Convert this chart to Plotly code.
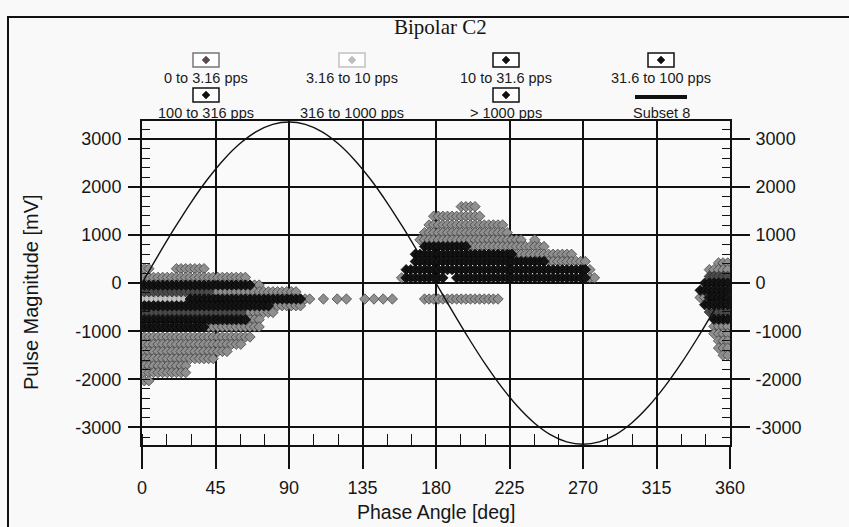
import plotly.graph_objects as go

# ---------------- data ----------------
PHASE_BIN_DEG = 2.8125  # phase resolution of the PD pattern

# run-length encoded rows: (magnitude mV, first phase deg, last phase deg)
SEG_0_TO_3_16 = [
    (300, 0, 4), (300, 20, 31), (300, 34, 38),
    (120, 0, 64),
    (-40, 66, 72),
    (-180, 40, 93),
    (-330, 97, 104), (-330, 112, 112), (-330, 119, 119), (-330, 125, 125),
    (-330, 136, 136), (-330, 141, 141), (-330, 147, 147), (-330, 153, 153),
    (-330, 172, 219),
    (-470, 76, 97),
    (-610, 60, 81),
    (-760, 63, 72),
    (-910, 38, 71),
    (-1120, 0, 67),
    (-1270, 0, 60),
    (-1420, 0, 52),
    (-1570, 0, 43),
    (-1720, 0, 28),
    (-1860, 0, 17), (-1860, 22, 28),
    (-2030, 0, 5),
    (1590, 196, 204),
    (1390, 178, 207),
    (1210, 175, 222),
    (1050, 173, 224),
    (900, 171, 233), (900, 241, 241),
    (760, 197, 246),
    (600, 225, 262),
    (450, 247, 271),
    (280, 271, 273),
    (110, 159, 163), (110, 272, 278),
    (420, 353, 360),
    (280, 348, 360),
    (-300, 343, 347),
    (-900, 350, 360),
    (-1050, 351, 360),
    (-1200, 352, 360),
    (-1350, 353, 360),
    (-1500, 355, 360),
]
SEG_3_16_TO_10 = [
    (-330, 0, 29),
]
SEG_10_TO_31_6 = [
    (-180, 0, 40),
    (-610, 0, 60),
    (140, 346, 360),
    (-600, 346, 360),
]
SEG_31_6_TO_100 = [
    (-40, 0, 66),
    (-330, 29, 97),
    (-470, 0, 76),
    (-760, 0, 63),
    (-910, 0, 38),
    (760, 173, 197),
    (600, 167, 225),
    (450, 166, 247),
    (280, 163, 271),
    (110, 163, 183), (110, 193, 272),
    (0, 344, 360),
    (-150, 343, 360),
    (-300, 347, 360),
    (-450, 345, 360),
    (-750, 349, 360),
]

SINE_PHASE = list(range(0, 361, 10))
SINE_MV = [0, 582, 1146, 1675, 2153, 2566, 2901, 3148, 3299, 3350,
           3299, 3148, 2901, 2566, 2153, 1675, 1146, 582, 0,
           -582, -1146, -1675, -2153, -2566, -2901, -3148, -3299, -3350,
           -3299, -3148, -2901, -2566, -2153, -1675, -1146, -582, 0]

X_TICKS = [0, 45, 90, 135, 180, 225, 270, 315, 360]
Y_TICKS = [-3000, -2000, -1000, 0, 1000, 2000, 3000]

LEGEND_LABELS = ["0 to 3.16 pps", "3.16 to 10 pps", "10 to 31.6 pps", "31.6 to 100 pps",
                 "100 to 316 pps", "316 to 1000 pps", "> 1000 pps", "Subset 8"]

TITLE = "Bipolar C2"

# ---------------- layout geometry ----------------
W, H = 849, 527
ML, MR, MT, MB = 142, 119, 121, 82
PW, PH = W - ML - MR, H - MT - MB
Y_RANGE = [-3365, 3370]


def px2x(px):
    return (px - ML) / PW


def py2y(py):
    return (H - MB - py) / PH


def expand(segs):
    xs, ys = [], []
    half = PHASE_BIN_DEG / 2
    for mag, a, b in segs:
        k0 = round((a - half) / PHASE_BIN_DEG)
        k1 = round((b - half) / PHASE_BIN_DEG)
        for k in range(max(k0, 0), min(k1, 127) + 1):
            xs.append(half + k * PHASE_BIN_DEG)
            ys.append(mag)
    return xs, ys


fig = go.Figure()

series = [
    (SEG_3_16_TO_10, "#c4c4c4", "#8a8a8a"),
    (SEG_0_TO_3_16, "#8f8f8f", "#3a3a3a"),
    (SEG_10_TO_31_6, "#4a4a4a", "#222222"),
    (SEG_31_6_TO_100, "#141414", "#000000"),
]
for segs, fill, edge in series:
    xs, ys = expand(segs)
    fig.add_trace(go.Scatter(
        x=xs, y=ys, mode="markers", yaxis="y", showlegend=False,
        marker=dict(symbol="diamond", size=8, color=fill, line=dict(color=edge, width=0.7)),
        hoverinfo="skip"))

fig.add_trace(go.Scatter(
    x=SINE_PHASE, y=SINE_MV, mode="lines", yaxis="y2", showlegend=False,
    line=dict(color="#111111", width=1.4, shape="spline", smoothing=1.0), hoverinfo="skip"))

SANS = "Liberation Sans, Arial, sans-serif"
tickfont = dict(family=SANS, size=18, color="#161616")

fig.update_layout(
    width=W, height=H,
    margin=dict(l=ML, r=MR, t=MT, b=MB, pad=0),
    paper_bgcolor="#f9f9f9", plot_bgcolor="#fafafa",
    showlegend=False,
    xaxis=dict(range=[0, 360], tickvals=X_TICKS, ticktext=[str(v) for v in X_TICKS],
               showgrid=True, gridcolor="#111111", gridwidth=1.6, zeroline=False,
               ticks="outside", ticklen=22, tickwidth=1.6, tickcolor="#111111",
               showline=True, linecolor="#111111", linewidth=2, mirror=True,
               minor=dict(dtick=15, tick0=0, ticks="inside", ticklen=11, tickwidth=1.2,
                          tickcolor="#111111", showgrid=False),
               tickfont=tickfont, ticklabelstandoff=3, fixedrange=True),
    yaxis=dict(range=Y_RANGE, tickvals=Y_TICKS, ticktext=[str(v) for v in Y_TICKS],
               showgrid=True, gridcolor="#111111", gridwidth=1.6, zeroline=False,
               ticks="outside", ticklen=12, tickwidth=1.6, tickcolor="#111111",
               showline=True, linecolor="#111111", linewidth=2,
               minor=dict(dtick=200, tick0=0, ticks="inside", ticklen=8, tickwidth=1.2,
                          tickcolor="#111111", showgrid=False),
               tickfont=tickfont, ticklabelstandoff=3, fixedrange=True),
    yaxis2=dict(range=Y_RANGE, overlaying="y", side="right", anchor="x",
                tickvals=Y_TICKS, ticktext=[str(v) for v in Y_TICKS],
                showgrid=False, zeroline=False,
                ticks="outside", ticklen=18, tickwidth=1.6, tickcolor="#111111",
                showline=True, linecolor="#111111", linewidth=2,
                minor=dict(dtick=200, tick0=0, ticks="inside", ticklen=8, tickwidth=1.2,
                           tickcolor="#111111", showgrid=False),
                tickfont=tickfont, ticklabelstandoff=2, fixedrange=True),
)

shapes = []
annotations = []

# outer frame of the picture
shapes.append(dict(type="rect", xref="paper", yref="paper",
                   x0=px2x(8), x1=px2x(860), y0=py2y(540), y1=py2y(17),
                   line=dict(color="#111111", width=2), fillcolor="rgba(0,0,0,0)", layer="above"))

# title
annotations.append(dict(text=TITLE, xref="paper", yref="paper", x=px2x(440), y=py2y(27),
                        xanchor="center", yanchor="middle", showarrow=False,
                        font=dict(family="Liberation Serif, Times New Roman, serif", size=21,
                                  color="#151515")))

# axis titles
annotations.append(dict(text="Pulse Magnitude [mV]", xref="paper", yref="paper",
                        x=px2x(31), y=py2y(292), textangle=-90, xanchor="center", yanchor="middle",
                        showarrow=False, font=dict(family=SANS, size=20, color="#161616")))
annotations.append(dict(text="Phase Angle [deg]", xref="paper", yref="paper",
                        x=px2x(436), y=py2y(512), xanchor="center", yanchor="middle",
                        showarrow=False, font=dict(family=SANS, size=19.5, color="#161616")))

# legend (custom, 2 rows x 4 columns)
COL_X = [206, 352, 506, 661]
ICON_Y = [60, 95]
LABEL_Y = [78, 113]
icon_styles = [
    ("#777777", "#5a4a4a"), ("#c2c2c2", "#bdbdbd"), ("#111111", "#111111"), ("#111111", "#111111"),
    ("#111111", "#111111"), (None, None), ("#111111", "#111111"), ("line", "#111111"),
]
for i, label in enumerate(LEGEND_LABELS):
    r, c = divmod(i, 4)
    cx, cy = COL_X[c], ICON_Y[r]
    box, dia = icon_styles[i]
    if box == "line":
        shapes.append(dict(type="line", xref="paper", yref="paper",
                           x0=px2x(cx - 26), x1=px2x(cx + 26), y0=py2y(cy + 2), y1=py2y(cy + 2),
                           line=dict(color=dia, width=4)))
    elif box is not None:
        shapes.append(dict(type="rect", xref="paper", yref="paper",
                           x0=px2x(cx - 13), x1=px2x(cx + 13), y0=py2y(cy + 7), y1=py2y(cy - 7),
                           line=dict(color=box, width=1.5), fillcolor="#ffffff"))
        d = 4
        path = "M {} {} L {} {} L {} {} L {} {} Z".format(
            px2x(cx - d), py2y(cy), px2x(cx), py2y(cy - d), px2x(cx + d), py2y(cy), px2x(cx), py2y(cy + d))
        shapes.append(dict(type="path", xref="paper", yref="paper", path=path,
                           line=dict(color=dia, width=0.5), fillcolor=dia))
    annotations.append(dict(text=label, xref="paper", yref="paper", x=px2x(cx), y=py2y(LABEL_Y[r]),
                            xanchor="center", yanchor="middle", showarrow=False,
                            font=dict(family=SANS, size=14.5, color="#1a1a1a")))

fig.update_layout(shapes=shapes, annotations=annotations)

fig.write_html("out.html")
